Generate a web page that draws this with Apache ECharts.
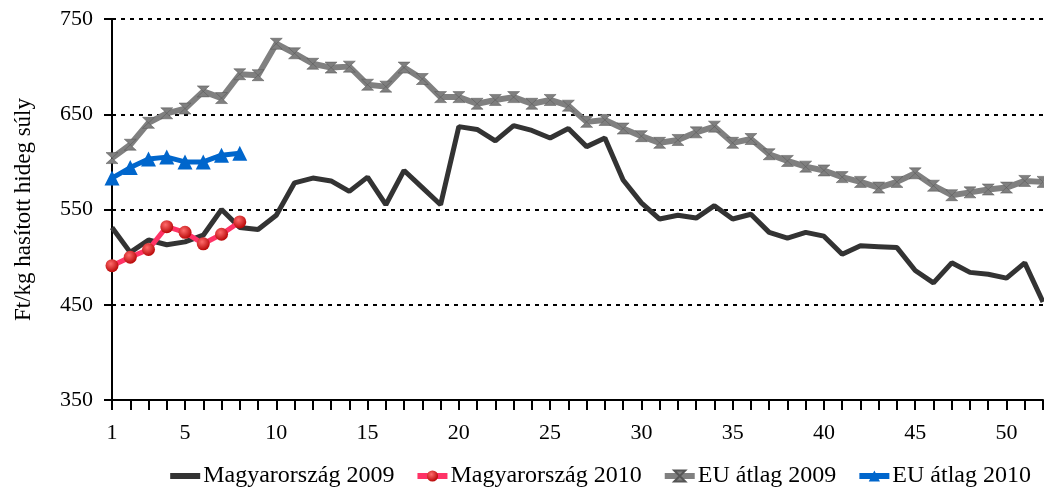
<style>html, body { margin: 0; padding: 0; }</style>
<script src="https://cdn.jsdelivr.net/npm/echarts@6/dist/echarts.min.js"></script>
<div id="main" style="width:1044px;height:494px;margin:0;padding:0;"></div>
<script>
    var weeks = [];
    for (var i = 1; i <= 52; i++) weeks.push(String(i));

    var hu2009 = [531, 505, 518, 513, 516, 523, 550, 531, 529, 544,
        578, 583, 580, 569, 584, 555, 591, 573, 555, 637,
        634, 622, 638, 633, 625, 635, 616, 625, 581, 557,
        540, 544, 541, 554, 540, 545, 526, 520, 526, 522,
        503, 512, 511, 510, 486, 473, 494, 484, 482, 478,
        494, 453];
    var hu2010 = [491, 500, 508, 532, 526, 514, 524, 537];
    var eu2009 = [604, 618, 641, 651, 656, 674, 667, 692, 691, 724,
        714, 703, 699, 700, 681, 679, 699, 687, 668, 668,
        661, 665, 668, 661, 665, 659, 642, 644, 635, 627,
        620, 623, 631, 637, 620, 624, 608, 601, 595, 591,
        584, 579, 573, 579, 588, 575, 565, 568, 571, 573,
        580, 579];
    var eu2010 = [583, 594, 603, 605, 600, 600, 607, 609];

    var serif = 'Liberation Serif';
    var hourglass = 'path://M0,0 L10,0 L0,10 L10,10 Z';

    var myChart = echarts.init(document.getElementById('main'));
    var option = {
        animation: false,
        textStyle: { fontFamily: serif },
        grid: { left: 112, right: 1, top: 19, bottom: 94, outerBoundsMode: 'none', containLabel: false },
        legend: {
            right: 8,
            top: 459,
            itemGap: 20,
            itemWidth: 30,
            itemHeight: 14,
            textStyle: { fontFamily: serif, fontSize: 24, color: '#000', padding: [0, 0, 0, -2] },
            data: [
                { name: 'Magyarország 2009', itemStyle: { opacity: 0 }, lineStyle: { width: 6 } },
                { name: 'Magyarország 2010', lineStyle: { width: 6 } },
                { name: 'EU átlag 2009', lineStyle: { width: 6 } },
                { name: 'EU átlag 2010', lineStyle: { width: 6 } }
            ]
        },
        xAxis: {
            type: 'category',
            data: weeks,
            boundaryGap: false,
            axisLine: { lineStyle: { color: '#000', width: 2 } },
            axisTick: { interval: 0, length: 10, lineStyle: { color: '#000', width: 2 } },
            axisLabel: {
                // 1, 5, 10, 15 ...
                interval: function (idx) { return idx === 0 || (idx + 1) % 5 === 0; },
                color: '#000', fontFamily: serif, fontSize: 22, margin: 22
            }
        },
        yAxis: {
            type: 'value',
            min: 350,
            max: 750,
            interval: 100,
            name: 'Ft/kg hasított hideg súly',
            nameLocation: 'middle',
            nameGap: 77,
            nameTextStyle: { fontFamily: serif, fontSize: 23, color: '#000' },
            axisLine: { show: true, lineStyle: { color: '#000', width: 2 } },
            axisTick: { show: true, length: 8, lineStyle: { color: '#000', width: 2 } },
            axisLabel: { color: '#000', fontFamily: serif, fontSize: 22, margin: 19 },
            splitLine: { lineStyle: { color: '#000', type: [4, 5], width: 2 } }
        },
        series: [
            {
                name: 'Magyarország 2009',
                type: 'line',
                data: hu2009,
                symbol: 'none',
                itemStyle: { color: '#333333' },
                lineStyle: { color: '#333333', width: 5 }
            },
            {
                name: 'Magyarország 2010',
                type: 'line',
                data: hu2010,
                symbol: 'circle',
                symbolSize: 13,
                showAllSymbol: true,
                itemStyle: {
                    color: new echarts.graphic.RadialGradient(0.4, 0.35, 0.7, [
                        { offset: 0, color: '#ff6b6b' },
                        { offset: 1, color: '#b30000' }
                    ])
                },
                lineStyle: { color: '#ff3366', width: 5 }
            },
            {
                name: 'EU átlag 2009',
                type: 'line',
                data: eu2009,
                symbol: hourglass,
                symbolSize: [12, 11],
                showAllSymbol: true,
                itemStyle: { color: '#7f7f7f', borderColor: '#555', borderWidth: 0.5 },
                lineStyle: { color: '#808080', width: 6 }
            },
            {
                name: 'EU átlag 2010',
                type: 'line',
                data: eu2010,
                symbol: 'triangle',
                symbolSize: 15,
                showAllSymbol: true,
                itemStyle: { color: '#0066cc' },
                lineStyle: { color: '#0066cc', width: 5 }
            }
        ]
    };
    myChart.setOption(option);

    window.onresize = function () {
        myChart.resize();
    };
</script>
